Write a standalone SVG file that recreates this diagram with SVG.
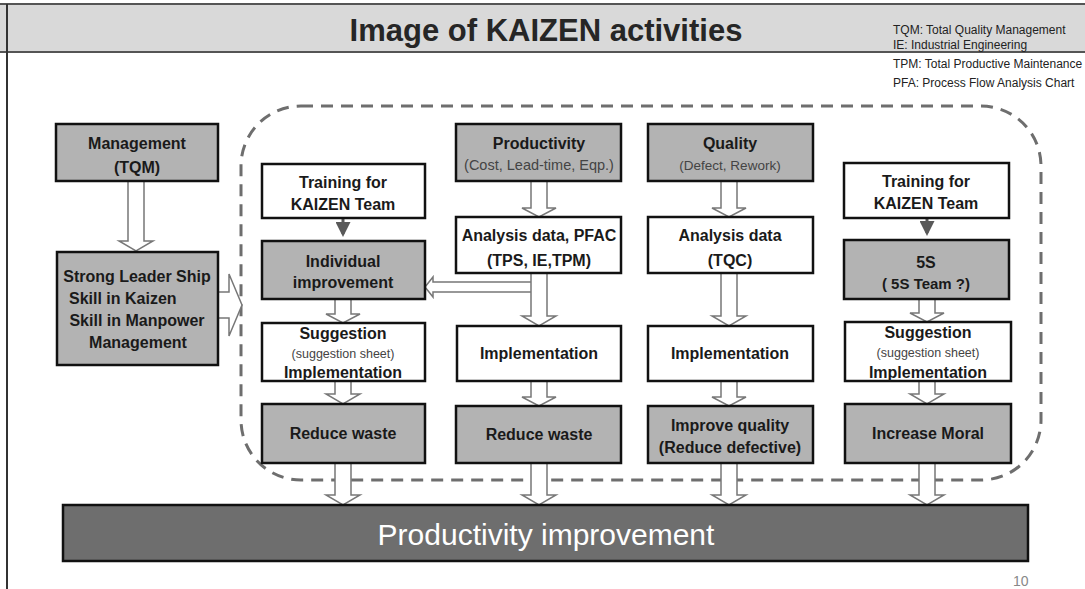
<svg xmlns="http://www.w3.org/2000/svg" width="1085" height="589" viewBox="0 0 1085 589">
<style>
.box{stroke:#111;stroke-width:2.5}
.g{fill:#b3b3b3}
.w{fill:#fff}
.t{font-family:"Liberation Sans",Arial,sans-serif;font-weight:bold;font-size:16px;fill:#1a1a1a;text-anchor:middle}
.s{font-family:"Liberation Sans",Arial,sans-serif;font-size:14px;fill:#444;text-anchor:middle}
.leg{font-family:"Liberation Sans",Arial,sans-serif;font-size:12px;fill:#222}
.ha{fill:#fff;stroke:#777;stroke-width:1.5;stroke-linejoin:miter}
</style>
<defs>
<marker id="sol" markerWidth="5" markerHeight="5" refX="4" refY="2.5" orient="auto" markerUnits="strokeWidth">
<path d="M0,0 L5,2.5 L0,5 Z" fill="#595959"/>
</marker>
</defs>
<rect x="0" y="0" width="1085" height="589" fill="#fff"/>
<g id="header">
<rect x="0" y="4" width="1085" height="48" fill="#d9d9d9"/>
<line x1="0" y1="4" x2="1085" y2="4" stroke="#555" stroke-width="2"/>
<line x1="0" y1="52" x2="1085" y2="52" stroke="#555" stroke-width="2"/>
<line x1="7" y1="4" x2="7" y2="589" stroke="#333" stroke-width="2"/>
<text x="546" y="41" style="font-family:'Liberation Sans',Arial,sans-serif;font-weight:bold;font-size:31px;fill:#262626;text-anchor:middle">Image of KAIZEN activities</text>
<text class="leg" x="893" y="34">TQM: Total Quality Management</text>
<text class="leg" x="893" y="49">IE: Industrial Engineering</text>
<text class="leg" x="893" y="68">TPM: Total Productive Maintenance</text>
<text class="leg" x="893" y="87">PFA: Process Flow Analysis Chart</text>
</g>
<g id="boundary">
<rect x="241" y="106" width="800" height="374" rx="60" ry="60" fill="none" stroke="#6e6e6e" stroke-width="3" stroke-dasharray="12 8"/>
</g>
<g id="connectors">
<polygon class="ha" points="128,181 144,181 144,241 153,241 136,251 119,241 128,241"/>
<polygon class="ha" points="218,292 229,292 229,274 242,305 229,336 229,318 218,318"/>
<line x1="343" y1="218" x2="343" y2="234" stroke="#595959" stroke-width="3" marker-end="url(#sol)"/>
<line x1="927" y1="218" x2="927" y2="233" stroke="#595959" stroke-width="3" marker-end="url(#sol)"/>
<polygon class="ha" points="335,299 351,299 351,314 360,314 343,323 326,314 335,314"/>
<polygon class="ha" points="335,381 351,381 351,394 360,394 343,404 326,394 335,394"/>
<polygon class="ha" points="335,463 351,463 351,495 360,495 343,505 326,495 335,495"/>
<polygon class="ha" points="532,282 433,282 433,277 425,287 433,297 433,292 532,292"/>
<polygon class="ha" points="531,181 547,181 547,208 556,208 539,217 522,208 531,208"/>
<polygon class="ha" points="531,273 547,273 547,316 556,316 539,326 522,316 531,316"/>
<polygon class="ha" points="531,381 547,381 547,397 556,397 539,406 522,397 531,397"/>
<polygon class="ha" points="531,463 547,463 547,495 556,495 539,505 522,495 531,495"/>
<polygon class="ha" points="721,181 737,181 737,208 746,208 729,217 712,208 721,208"/>
<polygon class="ha" points="721,273 737,273 737,316 746,316 729,326 712,316 721,316"/>
<polygon class="ha" points="721,381 737,381 737,397 746,397 729,406 712,397 721,397"/>
<polygon class="ha" points="721,463 737,463 737,495 746,495 729,505 712,495 721,495"/>
<polygon class="ha" points="919,299 935,299 935,313 944,313 927,322 910,313 919,313"/>
<polygon class="ha" points="919,381 935,381 935,394 944,394 927,404 910,394 919,394"/>
<polygon class="ha" points="919,463 935,463 935,495 944,495 927,505 910,495 919,495"/>
</g>
<g id="management">
<rect class="box g" x="56" y="124" width="162" height="57"/>
<text class="t" x="137" y="148.5">Management</text>
<text class="t" x="137" y="172.5">(TQM)</text>
</g>
<g id="leadership">
<rect class="box g" x="57" y="252" width="161" height="113"/>
<text class="t" x="137" y="281.5">Strong Leader Ship</text>
<text class="t" x="69" y="303.5" style="text-anchor:start">Skill in Kaizen</text>
<text class="t" x="137" y="325.5">Skill in Manpower</text>
<text class="t" x="138" y="347.5">Management</text>
</g>
<g id="training-left">
<rect class="box w" x="262" y="164" width="163" height="54"/>
<text class="t" x="343" y="187.5">Training for</text>
<text class="t" x="343" y="209.5">KAIZEN Team</text>
</g>
<g id="individual">
<rect class="box g" x="262" y="241" width="163" height="58"/>
<text class="t" x="343" y="266.5">Individual</text>
<text class="t" x="343" y="288">improvement</text>
</g>
<g id="suggestion-left">
<rect class="box w" x="262" y="323" width="163" height="58"/>
<text class="t" x="343" y="338.5">Suggestion</text>
<text class="s" x="343" y="357.5" style="font-size:12.5px">(suggestion sheet)</text>
<text class="t" x="343" y="377.5">Implementation</text>
</g>
<g id="reduce-waste-1">
<rect class="box g" x="262" y="404" width="163" height="59"/>
<text class="t" x="343" y="438.5">Reduce waste</text>
</g>
<g id="productivity">
<rect class="box g" x="456" y="124" width="165" height="57"/>
<text class="t" x="539" y="148.5">Productivity</text>
<text class="s" x="539" y="170" style="font-size:14.5px">(Cost, Lead-time, Eqp.)</text>
</g>
<g id="analysis-pfac">
<rect class="box w" x="456" y="217" width="165" height="56"/>
<text class="t" x="539" y="240.5">Analysis data, PFAC</text>
<text class="t" x="539" y="265.5">(TPS, IE,TPM)</text>
</g>
<g id="implementation-mid">
<rect class="box w" x="457" y="326" width="164" height="55"/>
<text class="t" x="539" y="358.5">Implementation</text>
</g>
<g id="reduce-waste-2">
<rect class="box g" x="456" y="406" width="165" height="57"/>
<text class="t" x="539" y="440">Reduce waste</text>
</g>
<g id="quality">
<rect class="box g" x="648" y="124" width="165" height="57"/>
<text class="t" x="730" y="148.5">Quality</text>
<text class="s" x="730" y="170" style="font-size:13.5px">(Defect, Rework)</text>
</g>
<g id="analysis-tqc">
<rect class="box w" x="648" y="217" width="165" height="56"/>
<text class="t" x="730" y="240.5">Analysis data</text>
<text class="t" x="730" y="265.5">(TQC)</text>
</g>
<g id="implementation-quality">
<rect class="box w" x="648" y="326" width="165" height="55"/>
<text class="t" x="730" y="358.5">Implementation</text>
</g>
<g id="improve-quality">
<rect class="box g" x="648" y="406" width="165" height="57"/>
<text class="t" x="730" y="430.5">Improve quality</text>
<text class="t" x="730" y="452.5">(Reduce defective)</text>
</g>
<g id="training-right">
<rect class="box w" x="844" y="163" width="165" height="55"/>
<text class="t" x="926" y="187">Training for</text>
<text class="t" x="926" y="209">KAIZEN Team</text>
</g>
<g id="fives">
<rect class="box g" x="844" y="240" width="165" height="59"/>
<text class="t" x="926" y="267.5">5S</text>
<text class="t" x="926" y="288.5" style="font-size:15px">( 5S Team ?)</text>
</g>
<g id="suggestion-right">
<rect class="box w" x="845" y="322" width="166" height="59"/>
<text class="t" x="928" y="338">Suggestion</text>
<text class="s" x="928" y="357" style="font-size:12.5px">(suggestion sheet)</text>
<text class="t" x="928" y="377.5">Implementation</text>
</g>
<g id="increase-moral">
<rect class="box g" x="845" y="404" width="166" height="59"/>
<text class="t" x="928" y="438.5">Increase Moral</text>
</g>
<g id="productivity-improvement">
<rect x="63" y="505" width="965" height="56" fill="#6e6e6e" stroke="#111" stroke-width="2.5"/>
<text x="546" y="545" style="font-family:'Liberation Sans',Arial,sans-serif;font-size:30px;fill:#fff;text-anchor:middle">Productivity improvement</text>
</g>
<text x="1013" y="586" style="font-family:'Liberation Sans',Arial,sans-serif;font-size:14px;fill:#888">10</text>
</svg>
